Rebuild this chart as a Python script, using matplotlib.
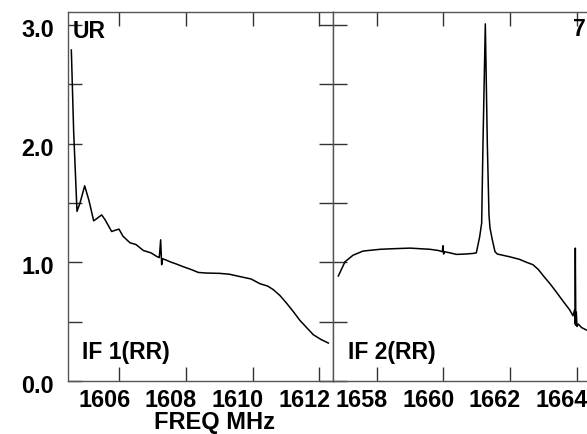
import matplotlib
matplotlib.use("Agg")
import matplotlib.pyplot as plt
import matplotlib.transforms as mtransforms
from matplotlib.ticker import MultipleLocator, FixedLocator

plt.rcParams['font.family'] = ['Liberation Sans', 'DejaVu Sans']
plt.rcParams['font.weight'] = 'bold'

# IF 1 (RR) spectrum: frequency (MHz) and amplitude
if1_freq = [1604.56, 1604.63, 1604.73, 1604.82, 1604.96, 1605.09, 1605.23, 1605.33,
            1605.47, 1605.57, 1605.77, 1605.87, 1605.99, 1606.11, 1606.32, 1606.50,
            1606.72, 1606.95, 1607.12, 1607.20, 1607.24, 1607.27, 1607.30, 1607.40,
            1607.52, 1607.72, 1607.92, 1608.15, 1608.37, 1608.60, 1609.02, 1609.30,
            1609.62, 1609.95, 1610.22, 1610.45, 1610.62, 1610.82, 1611.02, 1611.22,
            1611.42, 1611.62, 1611.82, 1612.05, 1612.27]
if1_amp = [2.79, 2.10, 1.43, 1.50, 1.645, 1.52, 1.35, 1.37,
           1.40, 1.36, 1.26, 1.27, 1.28, 1.22, 1.165, 1.15,
           1.10, 1.08, 1.05, 1.04, 1.19, 0.98, 1.03, 1.02,
           1.005, 0.985, 0.963, 0.94, 0.915, 0.91, 0.907, 0.90,
           0.88, 0.86, 0.82, 0.80, 0.77, 0.72, 0.655, 0.585,
           0.51, 0.45, 0.39, 0.35, 0.32]

# IF 2 (RR) spectrum
if2_freq = [1656.85, 1657.05, 1657.29, 1657.59, 1658.10, 1658.50, 1659.00, 1659.30,
            1659.60, 1659.85, 1659.97, 1659.99, 1660.01, 1660.03, 1660.20, 1660.39,
            1660.65, 1660.89, 1660.99, 1661.09, 1661.15, 1661.19, 1661.26, 1661.32,
            1661.37, 1661.40, 1661.47, 1661.55, 1661.62, 1661.99, 1662.29, 1662.50,
            1662.69, 1662.85, 1662.99, 1663.20, 1663.39, 1663.60, 1663.79, 1663.89,
            1663.94, 1663.95, 1663.96, 1663.975, 1663.99, 1664.01, 1664.05, 1664.15,
            1664.29]
if2_amp = [0.885, 1.005, 1.06, 1.095, 1.11, 1.115, 1.12, 1.115,
           1.11, 1.10, 1.09, 1.14, 1.07, 1.09, 1.08, 1.067,
           1.07, 1.075, 1.08, 1.215, 1.33, 2.0, 3.01, 2.0,
           1.40, 1.29, 1.19, 1.09, 1.07, 1.047, 1.025, 1.00,
           0.98, 0.94, 0.89, 0.82, 0.75, 0.67, 0.60, 0.55,
           0.60, 0.48, 1.12, 0.47, 0.58, 0.46, 0.48, 0.45,
           0.43]

if1_ticks = [1606, 1608, 1610, 1612]
if2_ticks = [1658, 1660, 1662, 1664]
y_ticks = [0.0, 1.0, 2.0, 3.0]
y_tick_labels = ['0.0', '1.0', '2.0', '3.0']

W, H = 587, 434
fig = plt.figure(figsize=(W / 100, H / 100), dpi=100)

px_per_mhz = 33.33
x0, x_mid, y_bot, y_top = 68, 333, 381, 12
right_end = 610

ax1 = fig.add_axes([x0 / W, 1 - y_bot / H, (x_mid - x0) / W, (y_bot - y_top) / H])
ax2 = fig.add_axes([x_mid / W, 1 - y_bot / H, (right_end - x_mid) / W, (y_bot - y_top) / H])

ax1.set_xlim(1604.46, 1604.46 + (x_mid - x0) / px_per_mhz)
ax2.set_xlim(1656.69, 1656.69 + (right_end - x_mid) / px_per_mhz)

spine_col = '#555555'
for ax in (ax1, ax2):
    ax.set_ylim(0.0, 3.11)
    for s in ax.spines.values():
        s.set_color(spine_col)
        s.set_linewidth(1.0)
    ax.yaxis.set_major_locator(FixedLocator(y_ticks))
    ax.yaxis.set_minor_locator(MultipleLocator(0.5))
    ax.tick_params(axis='both', which='both', direction='in', length=10,
                   width=1.0, color='#333333', top=True, bottom=True,
                   labelsize=16.8, pad=6)
    ax.tick_params(axis='x', which='minor', bottom=False, top=False)

ax1.plot(if1_freq, if1_amp, color='black', lw=1.1)
ax2.plot(if2_freq, if2_amp, color='black', lw=1.1)

ax1.set_xticks(if1_ticks)
ax1.set_xticklabels([str(t) for t in if1_ticks], fontweight='bold')
ax2.set_xticks(if2_ticks)
ax2.set_xticklabels([str(t) for t in if2_ticks], fontweight='bold')

ax1.set_yticklabels(y_tick_labels, fontweight='bold')
ax1.tick_params(axis='y', which='both', left=True, right=True, pad=10)
ax2.tick_params(axis='y', which='both', left=True, right=False, labelleft=False)
ax2.spines['right'].set_visible(False)

# x tick labels sit left of their ticks in the reference
shift = mtransforms.ScaledTranslation(-15 / 100, 0, fig.dpi_scale_trans)
for ax in (ax1, ax2):
    for lab in ax.get_xticklabels():
        lab.set_transform(lab.get_transform() + shift)
yshift = mtransforms.ScaledTranslation(0, -3 / 100, fig.dpi_scale_trans)
for lab in ax1.get_yticklabels():
    lab.set_transform(lab.get_transform() + yshift)

fs = 16.5
fig.text(73 / W, 1 - 31 / H, 'UR', fontsize=fs, fontweight='bold',
         ha='left', va='center')
fig.text(82 / W, 1 - 353 / H, 'IF 1(RR)', fontsize=fs, fontweight='bold',
         ha='left', va='center')
fig.text(348 / W, 1 - 353 / H, 'IF 2(RR)', fontsize=fs, fontweight='bold',
         ha='left', va='center')
fig.text(573 / W, 1 - 30 / H, '7', fontsize=fs, fontweight='bold',
         ha='left', va='center')
fig.text(215 / W, 1 - 422 / H, 'FREQ MHz', fontsize=17, fontweight='bold',
         ha='center', va='center')

fig.savefig('out.png', dpi=100)
